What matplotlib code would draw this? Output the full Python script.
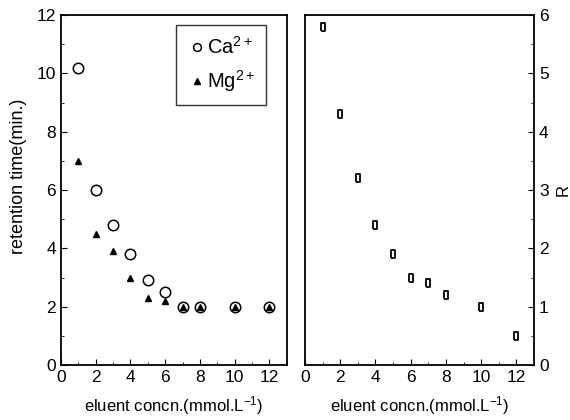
import matplotlib
matplotlib.use("Agg")
import matplotlib.pyplot as plt
from matplotlib.ticker import MultipleLocator

plt.rcParams['font.family'] = ['Liberation Sans', 'DejaVu Sans']
plt.rcParams['mathtext.fontset'] = 'custom'
plt.rcParams['mathtext.rm'] = 'Liberation Sans'
plt.rcParams['mathtext.it'] = 'Liberation Sans'
plt.rcParams['mathtext.default'] = 'regular'

conc = [1, 2, 3, 4, 5, 6, 7, 8, 10, 12]
ca = [10.2, 6.0, 4.8, 3.8, 2.9, 2.5, 2.0, 2.0, 2.0, 2.0]
mg = [7.0, 4.5, 3.9, 3.0, 2.3, 2.2, 2.0, 2.0, 2.0, 2.0]
res = [5.8, 4.3, 3.2, 2.4, 1.9, 1.5, 1.4, 1.2, 1.0, 0.5]

fig = plt.figure(figsize=(5.7, 4.2), dpi=100)
ax1 = fig.add_axes([0.107, 0.131, 0.396, 0.833])
ax2 = fig.add_axes([0.535, 0.131, 0.402, 0.833])

ax1.plot(conc, ca, linestyle='none', marker='o', markersize=7.5, markerfacecolor='white',
         markeredgecolor='black', markeredgewidth=1.1, label='Ca$^{2+}$')
ax1.plot(conc, mg, linestyle='none', marker='^', markersize=5, color='black', label='Mg$^{2+}$')
ax1.set_xlim(0, 13)
ax1.set_ylim(0, 12)
ax1.xaxis.set_major_locator(MultipleLocator(2))
ax1.xaxis.set_minor_locator(MultipleLocator(1))
ax1.yaxis.set_major_locator(MultipleLocator(2))
ax1.yaxis.set_minor_locator(MultipleLocator(1))
ax1.set_ylabel('retention time(min.)', fontsize=13)
ax1.yaxis.set_label_coords(-0.15, 0.54)
ax1.set_xlabel('eluent concn.(mmol.L$^{-1}$)', fontsize=12, labelpad=7)
leg = ax1.legend(loc='upper right', bbox_to_anchor=(0.907, 0.971), borderaxespad=0,
                 prop={'size': 14.5},
                 handletextpad=0.05, handlelength=0.9, fancybox=False, frameon=True,
                 markerscale=0.75, borderpad=0.55, labelspacing=0.5)
leg.get_frame().set_edgecolor('black')
leg.get_frame().set_linewidth(1.0)

rect = [(-0.3, -0.5), (0.3, -0.5), (0.3, 0.5), (-0.3, 0.5), (-0.3, -0.5)]
ax2.plot(conc, res, linestyle='none', marker=rect, markersize=5.5, markerfacecolor='white',
         markeredgecolor='black', markeredgewidth=1.3)
ax2.set_xlim(0, 13)
ax2.set_ylim(0, 6)
ax2.xaxis.set_major_locator(MultipleLocator(2))
ax2.xaxis.set_minor_locator(MultipleLocator(1))
ax2.yaxis.set_major_locator(MultipleLocator(1))
ax2.yaxis.set_minor_locator(MultipleLocator(0.5))
ax2.yaxis.tick_right()
ax2.yaxis.set_label_position('right')
ax2.set_ylabel('R', fontsize=12, rotation=90, labelpad=5)
ax2.set_xlabel('eluent concn.(mmol.L$^{-1}$)', fontsize=12, labelpad=7)

for ax in (ax1, ax2):
    for s in ax.spines.values():
        s.set_linewidth(1.3)
    ax.tick_params(which='both', direction='in', labelsize=12.5)
    ax.tick_params(which='major', length=4)
    ax.tick_params(which='minor', length=2.5)
ax2.tick_params(which='both', left=False, right=True)

fig.savefig('out.png', dpi=100)
